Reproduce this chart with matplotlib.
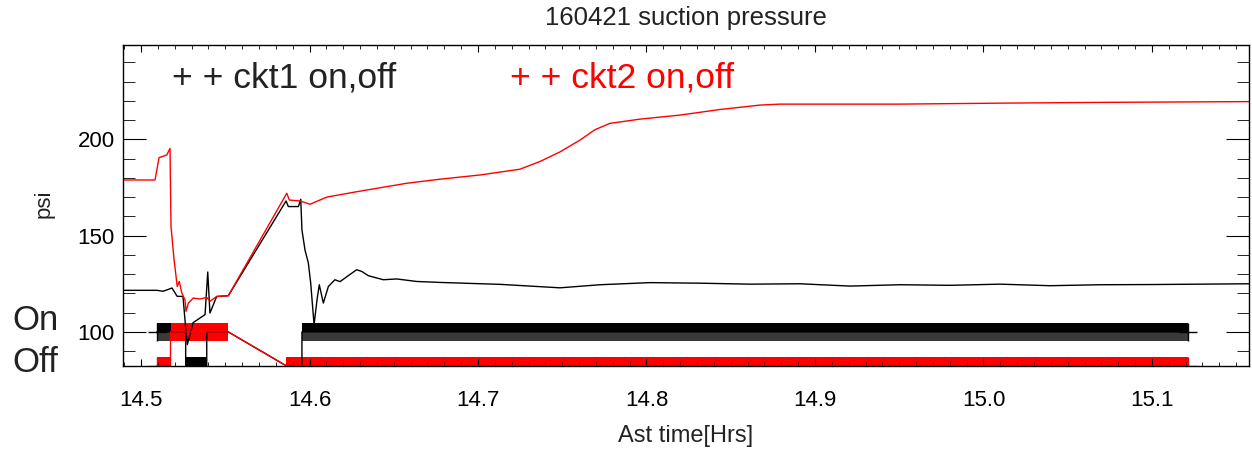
import numpy as np
import matplotlib
matplotlib.use("Agg")
import matplotlib.pyplot as plt
from matplotlib.ticker import MultipleLocator

plt.rcParams['font.family'] = ['Liberation Sans', 'DejaVu Sans']

# ckt1 suction pressure (black)
t1 = [14.4893, 14.5095, 14.5131, 14.5184, 14.5214, 14.5249, 14.5267, 14.5275, 14.5309,
      14.5380, 14.5396, 14.5409, 14.5449, 14.5518, 14.5861, 14.5874, 14.5934, 14.5948,
      14.5955, 14.5973, 14.5993, 14.6007, 14.6027, 14.6046, 14.6058, 14.6082, 14.6112,
      14.6151, 14.6181, 14.6230, 14.6280, 14.6310, 14.6349, 14.6438, 14.6518, 14.6636,
      14.6774, 14.7131, 14.7487, 14.7724, 14.8021, 14.8318, 14.8614, 14.8911, 14.9208,
      14.9504, 14.9801, 15.0098, 15.0395, 15.0691, 15.0988, 15.1576]
p1 = [121.6, 121.6, 121.1, 122.8, 118.5, 118.4, 100.0, 93.4, 104.8,
      109.0, 131.1, 109.8, 118.4, 118.8, 168.0, 165.1, 165.1, 168.9,
      153.0, 142.6, 135.8, 125.4, 103.8, 117.6, 124.5, 115.0, 123.6,
      127.1, 126.1, 129.2, 132.3, 131.4, 129.2, 127.1, 127.5, 126.2,
      125.7, 124.7, 122.9, 124.5, 125.6, 125.3, 124.8, 125.0, 123.8,
      124.5, 124.2, 124.8, 124.0, 124.5, 124.6, 125.0]

# ckt2 suction pressure (red)
t2 = [14.4893, 14.5083, 14.5107, 14.5153, 14.5172, 14.5178, 14.5196, 14.5215, 14.5227,
      14.5242, 14.5261, 14.5267, 14.5281, 14.5310, 14.5350, 14.5390, 14.5409, 14.5449,
      14.5518, 14.5865, 14.5880, 14.5944, 14.6003, 14.6102, 14.6280, 14.6577, 14.6774,
      14.7012, 14.7249, 14.7368, 14.7487, 14.7605, 14.7694, 14.7783, 14.7961, 14.8199,
      14.8436, 14.8674, 14.8792, 14.9504, 15.0098, 15.0691, 15.1576]
p2 = [178.9, 178.9, 190.5, 191.9, 195.3, 154.7, 137.5, 123.6, 126.2,
      120.2, 116.7, 110.7, 115.0, 117.6, 117.1, 117.9, 115.9, 118.4,
      118.8, 172.0, 168.5, 168.0, 166.3, 170.0, 172.8, 177.2, 179.3,
      181.5, 184.5, 188.5, 193.5, 199.6, 205.0, 208.3, 210.5, 212.6,
      215.5, 217.8, 218.3, 218.3, 218.8, 219.2, 219.6]

# on/off runs: start, end, state (1 = on, 0 = off)
ckt1_start = [14.5095, 14.5265, 14.5390, 14.5860, 14.5955]
ckt1_end = [14.5265, 14.5390, 14.5518, 14.5955, 15.1214]
ckt1_state = [1, 0, 1, 0, 1]
ckt2_start = [14.5095, 14.5175, 14.5860]
ckt2_end = [14.5175, 14.5518, 15.1214]
ckt2_state = [0, 1, 0]

ON, OFF = 100.0, 82.5
HALF = 4.6

fig = plt.figure(figsize=(12.52, 4.5), dpi=100)
ax = fig.add_axes([123/1252, 1-366/450, 1126/1252, 321/450])

ax.plot(t1, p1, color='black', lw=1.0)
ax.plot(t2, p2, color='#ff0000', lw=1.0)

def draw_state(starts, ends, states, col, lower_col):
    lev = [ON if s else OFF for s in states]
    xs, ys = [], []
    for a, b, l in zip(starts, ends, lev):
        xs += [a, b]
        ys += [l, l]
        ax.broken_barh([(a, b - a)], (l, HALF), facecolors=col, edgecolor='none')
        ax.broken_barh([(a, b - a)], (l - HALF, HALF), facecolors=lower_col, edgecolor='none')
    ax.plot(xs, ys, color=col, lw=1.0)
    ax.plot([starts[0], ends[-1]], [ys[0], ys[-1]], ls='none', marker='+',
            ms=13, mew=1.0, color=col)

draw_state(ckt1_start, ckt1_end, ckt1_state, 'black', '#3a3a3a')
draw_state(ckt2_start, ckt2_end, ckt2_state, '#ff0000', '#ff0000')

ax.set_xlim(14.4893, 15.1576)
ax.set_ylim(82.3, 249.0)
ax.xaxis.set_major_locator(MultipleLocator(0.1))
ax.xaxis.set_minor_locator(MultipleLocator(0.01))
ax.yaxis.set_major_locator(MultipleLocator(50))
ax.yaxis.set_minor_locator(MultipleLocator(10))
ax.xaxis.set_major_formatter(matplotlib.ticker.FormatStrFormatter('%.1f'))
ax.tick_params(which='both', direction='in', top=True, right=True, labelsize=16, colors='black')
ax.tick_params(axis='x', which='major', length=5, pad=17)
ax.tick_params(axis='x', which='minor', length=3)
ax.tick_params(axis='y', which='major', length=16.5, pad=6)
ax.tick_params(axis='y', which='minor', length=8.5)
for s in ax.spines.values():
    s.set_linewidth(1.0)

fig.text(686/1252, 1-18/450, '160421 suction pressure', ha='center', va='center', fontsize=18.5, color='#222222')
fig.text(686/1252, 1-436/450, 'Ast time[Hrs]', ha='center', va='center', fontsize=17, color='#222222')
fig.text(44/1252, 1-204/450, 'psi', rotation=90, ha='center', va='center', fontsize=16, color='#222222')
fig.text(12/1252, 1-320/450, 'On', ha='left', va='center', fontsize=25, color='#222222')
fig.text(12/1252, 1-363/450, 'Off', ha='left', va='center', fontsize=25, color='#222222')
fig.text(172/1252, 1-87/450, '+ + ckt1 on,off', ha='left', va='baseline', fontsize=25.5, color='#222222')
fig.text(510/1252, 1-87/450, '+ + ckt2 on,off', ha='left', va='baseline', fontsize=25.5, color='#ff0000')

fig.savefig('out.png', dpi=100)
